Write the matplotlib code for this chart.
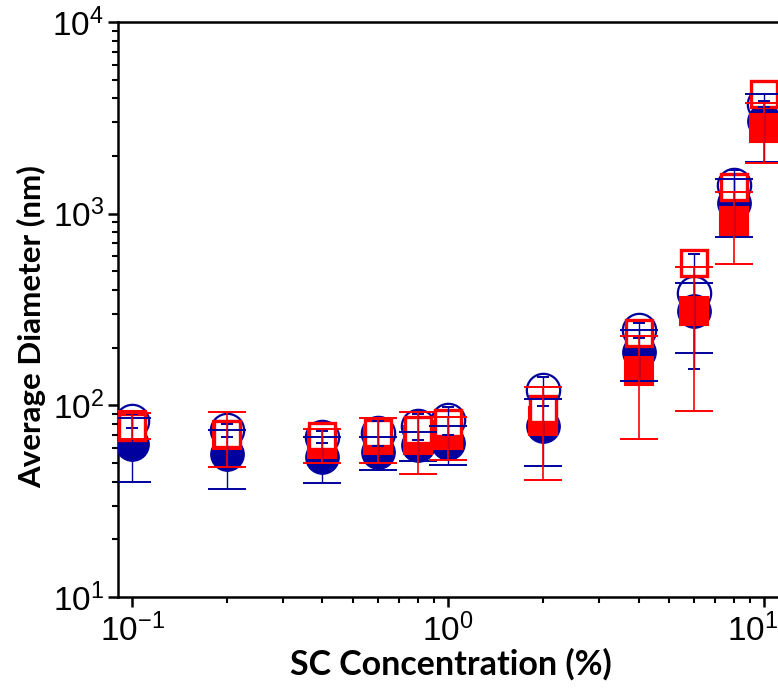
import numpy as np
import matplotlib
matplotlib.use('Agg')
import matplotlib.pyplot as plt
from matplotlib import rc
from matplotlib.ticker import LogLocator, NullFormatter
from matplotlib.transforms import ScaledTranslation

rc('font', family='Liberation Sans', size=18)
plt.rcParams['mathtext.default'] = 'regular'
plt.rcParams['axes.unicode_minus'] = False

navy = '#00009F'
red = '#FF0000'

# SC concentration (%)
conc = [0.1, 0.2, 0.4, 0.6, 0.8, 1.0, 2, 4, 6, 8, 10]

# filled circles (blue), with lower / upper error limits
blue_filled = [63, 55.5, 54, 57, 62, 63.5, 78, 190, 310, 1134, 3030]
blue_filled_lo = [40, 36.5, 39.5, 46, 51, 49, 48, 134, 187, 756, 1867]
blue_filled_hi = [86, 74.5, 68.7, 68, 73, 78, 108, 246, 433, 1512, 4196]

# filled squares (red)
red_filled = [79, 70, 63, 66, 66, 70, 83, 151, 309, 920, 2814]
red_filled_lo = [67, 47.5, 50, 50, 44, 52, 41, 67, 93.5, 547, 1833]
red_filled_hi = [91, 92, 75, 86, 92, 87, 125, 231, 525, 1293, 3795]

# open circles (blue)
blue_open = [83, 74, 68.6, 72, 78, 84, 120, 247, 385, 1403, 3750]
blue_open_err = [6.7, 6, 5.2, 11, 12, 14, 21, 23, 230, 290, 130]

# open squares (red)
red_open = [77, 71, 69, 72, 74, 81, 96, 239, 556, 1384, 4236]

fig = plt.figure(figsize=(7.78, 6.89), dpi=100)
ax = fig.add_axes([118/778, 1-597/689, 1.03-118/778, (597-22)/689])
ax.set_xscale('log')
ax.set_yscale('log')

# markers
ax.plot(conc, blue_open, 'o', ms=24, mfc='white', mec=navy, mew=1.6, ls='none', zorder=2)
ax.plot(conc, blue_filled, 'o', ms=24, mfc=navy, mec=navy, mew=1, ls='none', zorder=3)
ax.plot(conc, red_filled, 's', ms=20, mfc=red, mec=red, mew=1.5, ls='none', zorder=4)
ax.plot(conc, red_open, 's', ms=19, mfc='white', mec=red, mew=2.4, ls='none', zorder=5)

# error bars
bf = np.array(blue_filled)
rf = np.array(red_filled)
ax.errorbar(conc, bf, yerr=[bf - np.array(blue_filled_lo), np.array(blue_filled_hi) - bf],
            fmt='none', ecolor=navy, elinewidth=1.0, capsize=14, capthick=1.4, zorder=6)
ax.errorbar(conc, blue_open, yerr=blue_open_err,
            fmt='none', ecolor=navy, elinewidth=1.0, capsize=4, capthick=1.4, zorder=6)
ax.errorbar(conc, rf, yerr=[rf - np.array(red_filled_lo), np.array(red_filled_hi) - rf],
            fmt='none', ecolor=red, elinewidth=1.2, capsize=14, capthick=1.4, zorder=7)

ax.set_xlim(0.0902, 13.1)
ax.set_ylim(10, 10000)

ax.yaxis.set_major_locator(LogLocator(base=10, numticks=10))
ax.yaxis.set_minor_locator(LogLocator(base=10, subs=np.arange(2, 10), numticks=10))
ax.yaxis.set_minor_formatter(NullFormatter())
ax.xaxis.set_minor_formatter(NullFormatter())

for side in ['left', 'bottom', 'top', 'right']:
    ax.spines[side].set_linewidth(1.8)
ax.tick_params(which='major', direction='out', length=7, width=1.8, labelsize=24)
ax.tick_params(which='minor', direction='out', length=4, width=1.5)
ax.tick_params(axis='y', pad=3)
ax.tick_params(axis='x', pad=5)

ax.set_xlabel('SC Concentration (%)', fontsize=24.5, fontweight='bold', family='Lato')
ax.set_ylabel('Average Diameter (nm)', fontsize=22.5, fontweight='bold', family='Lato')
ax.xaxis.set_label_coords(0.487, -0.088)
ax.yaxis.set_label_coords(-0.105, 0.47)

# keep the last x tick label inside the canvas
fig.canvas.draw()
for tick in ax.xaxis.get_major_ticks():
    if abs(tick.get_loc() - 10) < 1e-9:
        tick.label1.set_transform(tick.label1.get_transform() +
                                  ScaledTranslation(-0.12, 0, fig.dpi_scale_trans))

fig.savefig('out.png', dpi=100)
